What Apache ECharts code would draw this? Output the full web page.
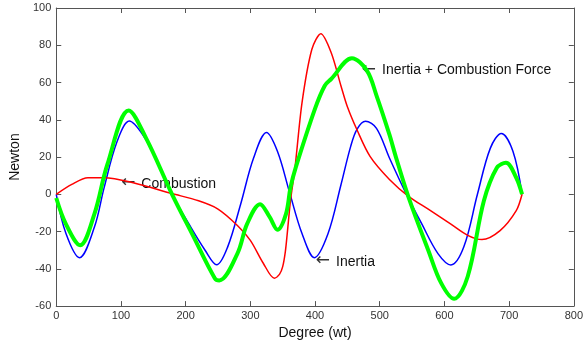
<!DOCTYPE html>
<html>
<head>
<meta charset="utf-8">
<script src="https://cdn.jsdelivr.net/npm/echarts@6/dist/echarts.min.js"></script>
<style>
  html, body {margin: 0; padding: 0; background: #fff;}
  #main {width: 586px; height: 345px;}
</style>
</head>
<body>
<div id="main"></div>
<script>
// degree (wt) -> force (Newton)
const inertiaDeg = [0, 15, 36, 59, 74, 94, 113, 134, 159, 179, 205, 230, 248, 265, 285, 305, 325, 342, 360,
  380, 399, 420, 440, 455, 465, 478, 495, 515, 540, 565, 590, 610, 630, 651, 671, 688, 706, 720];
const inertiaVal = [0, -21, -34, -17.6, 3.6, 28.3, 39.3, 31.8, 16, 0, -15.9, -30, -37.8, -28.2, -5.3, 19.5, 33.2, 23, 1.8,
  -21.2, -34, -21.2, 5, 25.6, 35, 39.2, 35.4, 19.5, 0.9, -15.9, -31.8, -37.9, -28.2, 0, 24.8, 32.7, 23, 0];

const combDeg = [0, 24, 49, 74, 119, 179, 220, 250, 280, 300, 320, 337, 345, 350, 354, 357, 362, 369, 380, 395, 409,
  425, 440, 450, 465, 485, 515, 545, 575, 610, 636, 658, 686, 711, 720];
const combVal = [0, 5.3, 8.9, 8.9, 6.2, 0.4, -3.5, -7.9, -16.7, -24.7, -37, -45, -43, -38.8, -31, -21.2, -3.5, 14.2, 49.5, 77.7, 86.2,
  76, 58.3, 47, 34.5, 20.4, 8, -1.2, -8, -16, -22, -24.3, -19.5, -8.8, 0];

const totalDeg = [0, 15, 37, 59, 79, 112, 139, 179, 210, 245, 252, 280, 295, 315, 330, 342, 355, 362, 370, 400, 415, 425,
  457, 480, 495, 515, 525, 545, 575, 595, 615, 636, 661, 681, 695, 711, 720];
const totalVal = [-2, -16, -27.3, -10.5, 16, 45, 30, 0, -21.2, -45, -46.2, -31.8, -15.9, -5.3, -12.3, -19, -10.6, 3.6, 14.2, 46, 58.3, 61.9,
  73, 66.5, 53, 32, 20, -2, -30, -47.7, -56.1, -44.1, -3.5, 14.2, 16.9, 8.9, 0];

// annotations: [degree, newton, text]
const notes = [
  [108, 7.3, 'Combustion'],
  [409, -34.6, 'Inertia'],
  [480, 68, 'Inertia + Combustion Force']
];

const pairs = (xs, ys) => xs.map((x, i) => [x, ys[i]]);
const font = 'Liberation Sans, Arial, sans-serif';
const axisColor = '#555';

const chart = echarts.init(document.getElementById('main'));

const axisBase = {
  type: 'value',
  axisLine: {show: true, onZero: false, lineStyle: {color: axisColor, width: 1}},
  axisTick: {show: true, inside: true, length: 5, lineStyle: {color: axisColor}},
  splitLine: {show: false},
};

const lineBase = {type: 'line', smooth: 0.35, showSymbol: false, silent: true};

chart.setOption({
  animation: false,
  grid: {left: 44, right: 10, top: 8, bottom: 35},
  xAxis: [
    Object.assign({}, axisBase, {
      min: 0, max: 800, interval: 100,
      name: 'Degree (wt)', nameLocation: 'middle', nameGap: 13,
      nameTextStyle: {fontFamily: font, fontSize: 14, color: '#111'},
      axisLabel: {fontFamily: font, fontSize: 11, color: '#333', margin: 4},
    }),
    Object.assign({}, axisBase, {
      position: 'top', min: 0, max: 800, interval: 100,
      axisLabel: {show: false},
    })
  ],
  yAxis: [
    Object.assign({}, axisBase, {
      min: -60, max: 100, interval: 20,
      name: 'Newton', nameLocation: 'middle', nameGap: 24, nameRotate: 90,
      nameTextStyle: {fontFamily: font, fontSize: 14, color: '#111'},
      axisLabel: {fontFamily: font, fontSize: 11, color: '#333', margin: 5},
    }),
    Object.assign({}, axisBase, {
      position: 'right', min: -60, max: 100, interval: 20,
      axisLabel: {show: false},
    })
  ],
  series: [
    Object.assign({}, lineBase, {
      name: 'Inertia', data: pairs(inertiaDeg, inertiaVal),
      lineStyle: {color: '#0000ff', width: 1.5},
    }),
    Object.assign({}, lineBase, {
      name: 'Combustion', data: pairs(combDeg, combVal), smooth: 0.3,
      lineStyle: {color: '#ff0000', width: 1.5},
    }),
    Object.assign({}, lineBase, {
      name: 'Inertia + Combustion Force', data: pairs(totalDeg, totalVal),
      lineStyle: {color: '#00ff00', width: 4},
    })
  ]
});

// place the text notes at their data positions
chart.setOption({
  graphic: notes.map(n => {
    const p = chart.convertToPixel({xAxisIndex: 0, yAxisIndex: 0}, [n[0], n[1]]);
    return {
      type: 'text', x: p[0] - 5, y: p[1] + 3,
      style: {
        text: '{a|\u2190}{t|' + n[2] + '}',
        verticalAlign: 'middle',
        rich: {
          a: {fontFamily: 'DejaVu Sans', fontSize: 17, fill: '#333', padding: [0, 6, 2, 0]},
          t: {fontFamily: font, fontSize: 14, fill: '#111'}
        }
      },
    };
  })
});
</script>
</body>
</html>
